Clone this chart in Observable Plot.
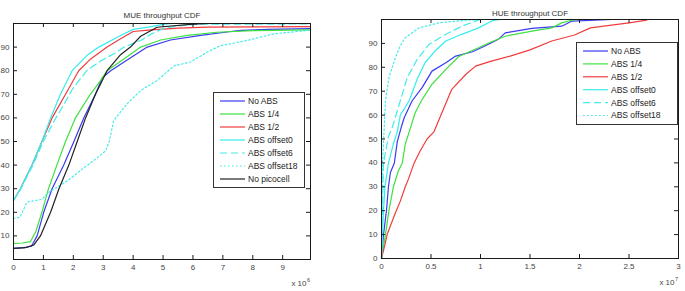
<!DOCTYPE html>
<html>
<head>
<meta charset="utf-8">
<script src="https://cdn.jsdelivr.net/npm/d3@7"></script>
<script src="https://cdn.jsdelivr.net/npm/@observablehq/plot@0.6"></script>
<style>
  body { margin: 0; background: #fff; }
  #wrap { position: relative; width: 685px; height: 291px; overflow: hidden; background: #fff;
          font-family: "Liberation Sans", Arial, sans-serif; }
  .panel { position: absolute; top: 0; }
  .legend { position: absolute; background: #fff; border: 1px solid #333; box-sizing: border-box; }
  .legend svg { display: block; }
</style>
</head>
<body>
<div id="wrap"></div>
<script>
// ---- MUE throughput CDF (x in units of 10^6) ----
const mueNoAbs = [[0,4.7],[0.35,5],[0.6,5.6],[0.79,10],[1.01,20],[1.29,30],[1.68,40],[2.02,50],[2.35,60],[2.74,70],[2.97,77],[3.25,80],[3.8,84.5],[4.47,90],[5.25,93],[6.26,95],[7.2,96.5],[7.6,97.1],[8.5,97.5],[9.93,97.8]];
const mueAbs14 = [[0,6.8],[0.3,7],[0.57,7.6],[0.75,12],[0.95,20],[1.17,30],[1.45,40],[1.74,50],[2.07,60],[2.57,70],[2.91,75.8],[3.13,80],[3.69,85],[4.25,90],[4.92,93],[5.8,95],[6.8,96.3],[8,97],[9.93,97.3]];
const mueAbs12 = [[0,25],[0.23,30],[0.62,40],[0.95,50],[1.29,60],[1.74,70],[2.18,80],[2.58,85],[3.13,90],[3.58,93.5],[4.0,96.6],[4.5,97.2],[5.5,98],[6.5,98.5],[9.93,98.7]];
const mueOffset0 = [[0,25],[0.23,30],[0.62,40],[0.95,50],[1.24,60],[1.57,70],[1.96,80],[2.46,86.5],[2.85,90],[3.58,94.9],[4.0,97.5],[4.5,98.5],[5.0,99.6],[5.3,100],[9.93,100]];
const mueOffset6 = [[0,25],[0.25,30],[0.65,40],[1.0,50],[1.35,58.5],[1.7,66],[1.96,72],[2.2,76],[2.45,80],[2.9,84],[3.4,87.5],[3.7,90],[4.25,92.8],[4.6,95.5],[5.0,97.8],[5.5,99],[6.2,99.7],[9.93,99.8]];
const mueOffset18 = [[0,17.3],[0.22,18],[0.45,24.3],[0.95,25.5],[1.17,28.4],[1.8,33.3],[2.3,38.3],[2.74,42.5],[3.08,46],[3.2,50],[3.35,58.9],[3.8,66],[4.25,71.6],[4.8,75.8],[5.36,82],[5.92,83.7],[6.48,87.9],[6.9,90.5],[7.8,92.8],[8.7,95.6],[9.93,97.2]];
const mueNoPico = [[0,4.7],[0.4,5],[0.68,6.2],[0.9,10],[1.24,20],[1.52,30],[1.85,40],[2.13,50],[2.41,60],[2.74,70],[3.13,80],[3.58,86.8],[3.91,90],[4.25,94.6],[4.8,98.4],[5.9,99.6],[6.5,100],[9.93,100]];

// ---- HUE throughput CDF (x in units of 10^7) ----
const hueNoAbs = [[0,0],[0.02,10],[0.05,20],[0.07,30],[0.09,36],[0.13,40],[0.16,49],[0.2,55],[0.23,59],[0.31,66],[0.41,71.5],[0.51,78.4],[0.65,81.9],[0.75,84.7],[0.92,86.5],[1.05,89],[1.18,91.7],[1.25,94.4],[1.52,96.3],[1.82,97.2],[1.92,99.3],[2.33,100]];
const hueAbs14 = [[0,0],[0.04,10],[0.075,20],[0.12,30],[0.17,36.6],[0.21,40],[0.24,47.8],[0.28,53],[0.34,61],[0.41,66.5],[0.51,72.9],[0.65,79.1],[0.78,84.5],[0.98,88.2],[1.1,90.5],[1.25,93],[1.52,95.1],[1.72,96.5],[1.82,98.6],[1.92,99.7],[2.0,100]];
const hueAbs12 = [[0,0],[0.03,5],[0.057,10],[0.09,13.7],[0.14,19],[0.19,24],[0.24,30],[0.27,33],[0.33,40],[0.39,45],[0.46,50],[0.53,53],[0.61,61],[0.71,70.8],[0.85,77],[0.95,80.5],[1.1,82.5],[1.3,84.7],[1.5,87.3],[1.72,91],[1.95,93.5],[2.11,96.5],[2.5,98.6],[2.68,99.7]];
const hueOffset0 = [[0,0],[0.01,10],[0.02,20],[0.035,30],[0.07,40],[0.12,48],[0.16,53],[0.19,60],[0.28,66],[0.36,75],[0.44,81.9],[0.54,86.8],[0.65,91],[0.81,93.8],[0.98,96.5],[1.12,99.5],[1.2,100]];
const hueOffset6 = [[0,0],[0.01,20],[0.02,40],[0.07,51],[0.11,55],[0.19,66],[0.26,75.7],[0.36,83.3],[0.48,89.6],[0.65,93.8],[0.81,97.2],[0.95,99.3],[1.0,100]];
const hueOffset18 = [[0,0],[0.005,20],[0.01,40],[0.02,48],[0.03,57],[0.04,66],[0.075,75.7],[0.14,84],[0.19,89],[0.24,92.4],[0.38,96.5],[0.58,98.6],[0.85,99.7],[1.0,100]];

// ---- labels and ticks ----
const seriesNames = ["No ABS", "ABS 1/4", "ABS 1/2", "ABS offset0", "ABS offset6", "ABS offset18", "No picocell"];
const mueTitle = "MUE throughput CDF";
const hueTitle = "HUE throughput CDF";
const expBase = "x 10";
const mueExponent = "6";
const hueExponent = "7";
const mueXTicks = [0, 1, 2, 3, 4, 5, 6, 7, 8, 9];
const hueXTicks = [0, 0.5, 1, 1.5, 2, 2.5, 3];
const mueYTicks = [10, 20, 30, 40, 50, 60, 70, 80, 90];
const hueYTicks = [0, 10, 20, 30, 40, 50, 60, 70, 80, 90];

// line styles per series name
const styles = {
  "No ABS":       {stroke: "#3a3af2", dash: null},
  "ABS 1/4":      {stroke: "#3fe03f", dash: null},
  "ABS 1/2":      {stroke: "#f03c3c", dash: null},
  "ABS offset0":  {stroke: "#35eded", dash: null},
  "ABS offset6":  {stroke: "#45eaea", dash: "7,4"},
  "ABS offset18": {stroke: "#45eaea", dash: "1.6,2.4"},
  "No picocell":  {stroke: "#222222", dash: null}
};

const mueSeries = [mueNoAbs, mueAbs14, mueAbs12, mueOffset0, mueOffset6, mueOffset18, mueNoPico]
  .map((values, i) => ({name: seriesNames[i], values}));
const hueSeries = [hueNoAbs, hueAbs14, hueAbs12, hueOffset0, hueOffset6, hueOffset18]
  .map((values, i) => ({name: seriesNames[i], values}));

const font = '"Liberation Sans", Arial, sans-serif';

function panel({width, height, m, xDomain, xTicks, yTicks, series, title, titleDy, exponent, expDy}) {
  const innerW = width - m.left - m.right;
  const innerH = height - m.top - m.bottom;
  const lines = series.map(s => Plot.line(s.values, {
    x: d => d[0], y: d => d[1],
    stroke: styles[s.name].stroke,
    strokeDasharray: styles[s.name].dash,
    strokeWidth: 1.2
  }));
  return Plot.plot({
    width, height,
    marginTop: m.top, marginRight: m.right, marginBottom: m.bottom, marginLeft: m.left,
    style: {fontFamily: font, fontSize: "8px", color: "#3a3a3a", background: "transparent", overflow: "visible"},
    x: {domain: xDomain},
    y: {domain: [0, 100]},
    marks: [
      ...lines,
      Plot.frame({stroke: "#1a1a1a", strokeWidth: 1}),
      // inward ticks on all four sides
      Plot.ruleX(xTicks, {insetTop: innerH - 4, stroke: "#1a1a1a"}),
      Plot.ruleX(xTicks, {insetBottom: innerH - 4, stroke: "#1a1a1a"}),
      Plot.ruleY(yTicks, {insetRight: innerW - 4, stroke: "#1a1a1a"}),
      Plot.ruleY(yTicks, {insetLeft: innerW - 4, stroke: "#1a1a1a"}),
      Plot.axisX(xTicks, {tickSize: 0, tickPadding: 5, tickFormat: d => String(d), fill: "#444"}),
      Plot.axisY(yTicks, {tickSize: 0, tickPadding: 4, tickFormat: d => String(d), fill: "#444"}),
      Plot.text([title], {frameAnchor: "top", dy: titleDy, fontSize: 8, fill: "#333", letterSpacing: "0.5px"}),
      // scale factor "x 10" with its raised exponent
      Plot.text([expBase], {frameAnchor: "bottom-right", dx: -4, dy: expDy, textAnchor: "end", fontSize: 8, fill: "#444"}),
      Plot.text([exponent], {frameAnchor: "bottom-right", dx: -0.5, dy: expDy - 4, textAnchor: "end", fontSize: 5.5, fill: "#444"})
    ]
  });
}

function legend(series, {left, top, width, height, rowH, firstY}) {
  const div = document.createElement("div");
  div.className = "legend";
  Object.assign(div.style, {left: left + "px", top: top + "px", width: width + "px", height: height + "px"});
  const svg = d3.create("svg").attr("width", width - 2).attr("height", height - 2)
    .style("font-family", font).style("font-size", "8.5px");
  series.forEach((s, i) => {
    const y = firstY + i * rowH;
    svg.append("line").attr("x1", 6).attr("x2", 31).attr("y1", y).attr("y2", y)
      .attr("stroke", styles[s.name].stroke).attr("stroke-width", 1.2)
      .attr("stroke-dasharray", styles[s.name].dash);
    svg.append("text").attr("x", 34).attr("y", y).attr("dy", "0.35em").attr("fill", "#222").text(s.name);
  });
  div.append(svg.node());
  return div;
}

const wrap = document.getElementById("wrap");

const left = panel({
  width: 345, height: 291, m: {top: 23, right: 35, bottom: 32, left: 13},
  xDomain: [0, 9.93], xTicks: mueXTicks, yTicks: mueYTicks, series: mueSeries,
  title: mueTitle, titleDy: -11, exponent: mueExponent, expDy: 26
});
left.classList.add("panel");
left.style.left = "0px";
wrap.append(left);

const right = panel({
  width: 340, height: 291, m: {top: 19, right: 7, bottom: 33, left: 36},
  xDomain: [0, 3], xTicks: hueXTicks, yTicks: hueYTicks, series: hueSeries,
  title: hueTitle, titleDy: -9.5, exponent: hueExponent, expDy: 26
});
right.classList.add("panel");
right.style.left = "345px";
wrap.append(right);

wrap.append(legend(mueSeries, {left: 213, top: 92, width: 92, height: 96, rowH: 13, firstY: 8}));
wrap.append(legend(hueSeries, {left: 576, top: 42, width: 102, height: 83, rowH: 12.9, firstY: 8}));
</script>
</body>
</html>
